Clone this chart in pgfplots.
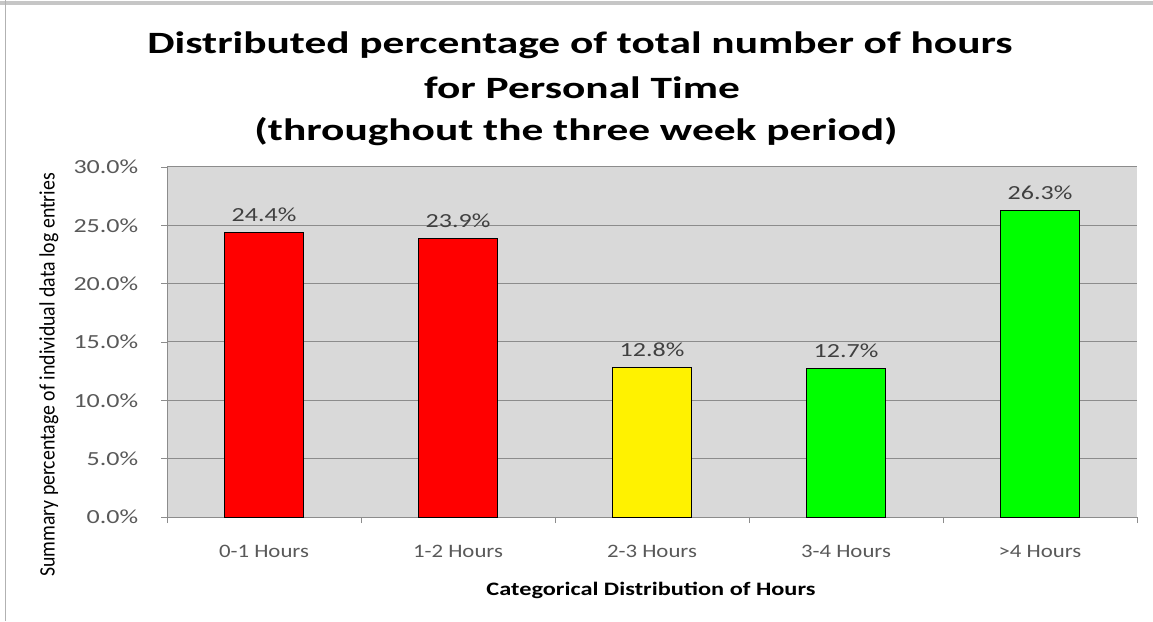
\documentclass[border=0pt]{standalone}
\usepackage{pgfplots}
\pgfplotsset{compat=1.18}
\usepackage{fontspec}
\setmainfont{Carlito}
\definecolor{bggray}{HTML}{D9D9D9}
\definecolor{gridgray}{HTML}{8C8C8C}
\definecolor{ticktext}{HTML}{595959}
\definecolor{labeltext}{HTML}{404040}
\begin{document}
\begin{tikzpicture}[x=1pt,y=1pt]
\useasboundingbox (0,0) rectangle (1153,621);
\draw[gray!45, line width=4pt] (0,618) -- (1153,618);
\draw[gray!60, line width=1pt] (5,0) -- (5,621);
\node[font=\fontsize{31}{36}\selectfont\bfseries, xscale=1.40] at (580,576) {Distributed percentage of total number of hours};
\node[font=\fontsize{31}{36}\selectfont\bfseries, xscale=1.40] at (582,533) {for Personal Time};
\node[font=\fontsize{31}{36}\selectfont\bfseries, xscale=1.40] at (576,489) {(throughout the three week period)};
\node[font=\fontsize{19}{22}\selectfont\bfseries, xscale=1.28] at (651,31) {Categorical Distribution of Hours};
\node[font=\fontsize{22}{24}\selectfont, rotate=90, xscale=0.9] at (49,246) {Summary percentage of individual data log entries};
\begin{axis}[
  at={(167pt,104pt)}, anchor=south west,
  scale only axis, width=970pt, height=350pt,
  xmin=-0.5, xmax=4.5, ymin=0, ymax=30,
  axis background/.style={fill=bggray},
  axis x line*=bottom, axis y line*=left,
  axis line style={gridgray, line width=0.8pt},
  xtick={0,1,2,3,4},
  xticklabels={0-1 Hours,1-2 Hours,2-3 Hours,3-4 Hours,>4 Hours},
  major x tick style={draw=none},
  minor xtick={-0.5,0.5,1.5,2.5,3.5,4.5},
  minor x tick style={gridgray, line width=0.8pt},
  minor tick length=6pt,
  ytick={0,5,10,15,20,25,30},
  y tick style={gridgray, line width=0.8pt},
  major tick length=6pt,
  tick align=outside,
  ymajorgrids,
  grid style={gridgray, line width=1pt},
  yticklabel={\pgfmathprintnumber[fixed,fixed zerofill,precision=1]{\tick}\%},
  /pgf/number format/assume math mode=true,
  ticklabel style={text=ticktext},
  xticklabel style={font=\fontsize{19}{22}\selectfont, xscale=1.2, yshift=-19pt},
  yticklabel style={font=\fontsize{20}{22}\selectfont, xscale=1.3, xshift=-14pt},
  ybar, bar width=0.41, bar shift=0pt,
  nodes near coords={\pgfmathprintnumber[fixed,fixed zerofill,precision=1]{\pgfplotspointmeta}\%},
  nodes near coords style={font=\fontsize{20}{22}\selectfont, xscale=1.3, text=labeltext, yshift=7pt, /pgf/number format/assume math mode=true},
  clip=false,
]
\addplot[fill=red, draw=black, line width=1pt] coordinates {(0,24.4) (1,23.9)};
\addplot[fill=yellow, draw=black, line width=1pt] coordinates {(2,12.8)};
\addplot[fill=green, draw=black, line width=1pt] coordinates {(3,12.7) (4,26.3)};
\end{axis}
\end{tikzpicture}
\end{document}
